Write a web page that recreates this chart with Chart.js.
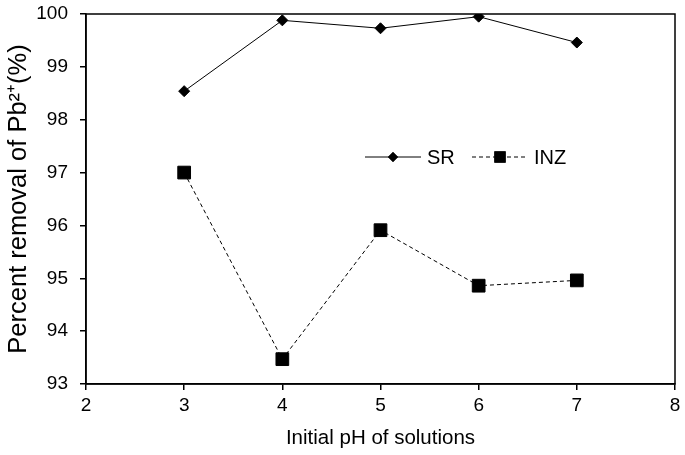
<!DOCTYPE html>
<html>
<head>
<meta charset="utf-8">
<script src="https://cdn.jsdelivr.net/npm/chart.js@4.4.0/dist/chart.umd.min.js"></script>
<style>
  html, body { margin: 0; padding: 0; background: #fff; }
  #wrap { width: 685px; height: 455px; position: relative; }
</style>
</head>
<body>
<div id="wrap"><canvas id="c"></canvas></div>
<script>
const phValues = [3, 4, 5, 6, 7];
const srRemoval = [98.54, 99.88, 99.73, 99.95, 99.46];
const inzRemoval = [97.0, 93.47, 95.91, 94.86, 94.96];
const seriesNames = ['SR', 'INZ'];

const font = 'Arial, "Liberation Sans", sans-serif';

// box round the plot + in-plot legend with line and marker
const frame = {
  id: 'frame',
  afterDatasetsDraw(chart) {
    const { ctx, chartArea: a } = chart;
    ctx.save();
    ctx.strokeStyle = '#000';
    ctx.lineWidth = 1.5;
    ctx.strokeRect(a.left, a.top, a.right - a.left, a.bottom - a.top);

    const y = 157;
    const items = [
      { x: 365, dash: [], style: 'rectRot', r: 5 },
      { x: 472, dash: [4, 3], style: 'rect', r: 8 }
    ];
    ctx.font = '20px ' + font;
    ctx.fillStyle = '#000';
    ctx.textBaseline = 'middle';
    items.forEach((it, i) => {
      ctx.setLineDash(it.dash);
      ctx.lineWidth = 1;
      ctx.beginPath();
      ctx.moveTo(it.x, y);
      ctx.lineTo(it.x + 56, y);
      ctx.stroke();
      ctx.setLineDash([]);
      Chart.helpers.drawPoint(ctx, { pointStyle: it.style, radius: it.r, borderWidth: 0 }, it.x + 28, y);
      ctx.fill();
      ctx.fillText(seriesNames[i], it.x + 62, y + 1);
    });
    ctx.restore();
  }
};

new Chart(document.getElementById('c'), {
  type: 'line',
  data: {
    datasets: [
      {
        label: seriesNames[0],
        data: phValues.map((x, i) => ({ x, y: srRemoval[i] })),
        borderColor: '#000', backgroundColor: '#000', borderWidth: 1,
        pointStyle: 'rectRot', pointRadius: 5.5, pointHoverRadius: 5.5, tension: 0
      },
      {
        label: seriesNames[1],
        data: phValues.map((x, i) => ({ x, y: inzRemoval[i] })),
        borderColor: '#000', backgroundColor: '#000', borderWidth: 1, borderDash: [4, 3],
        pointStyle: 'rect', pointRadius: 9, pointHoverRadius: 9, tension: 0
      }
    ]
  },
  options: {
    responsive: true, maintainAspectRatio: false, animation: false,
    layout: { padding: { top: 14, right: 7, bottom: 0, left: 0 } },
    plugins: { legend: { display: false }, tooltip: { enabled: false } },
    scales: {
      x: {
        type: 'linear', min: 2, max: 8,
        afterFit(s) { s.height = 71; s.paddingRight = 0; s.paddingLeft = 0; },
        grid: { drawOnChartArea: false, color: '#000', tickLength: 6, lineWidth: 1.5 },
        border: { color: '#000', width: 1.5 },
        ticks: { stepSize: 1, color: '#000', font: { family: font, size: 19 }, padding: 4 },
        title: { display: true, text: 'Initial pH of solutions', color: '#000', font: { family: font, size: 20.5 }, padding: { top: 2 } }
      },
      y: {
        min: 93, max: 100,
        afterFit(s) { s.width = 86; s.paddingTop = 0; s.paddingBottom = 0; },
        grid: { drawOnChartArea: false, color: '#000', tickLength: 6, lineWidth: 1.5 },
        border: { color: '#000', width: 1.5 },
        ticks: { stepSize: 1, color: '#000', font: { family: font, size: 19 }, padding: 12 },
        title: { display: true, text: 'Percent removal of Pb²⁺(%)', color: '#000', font: { family: font, size: 25.5 }, padding: { bottom: 2 } }
      }
    }
  },
  plugins: [frame]
});
</script>
</body>
</html>
